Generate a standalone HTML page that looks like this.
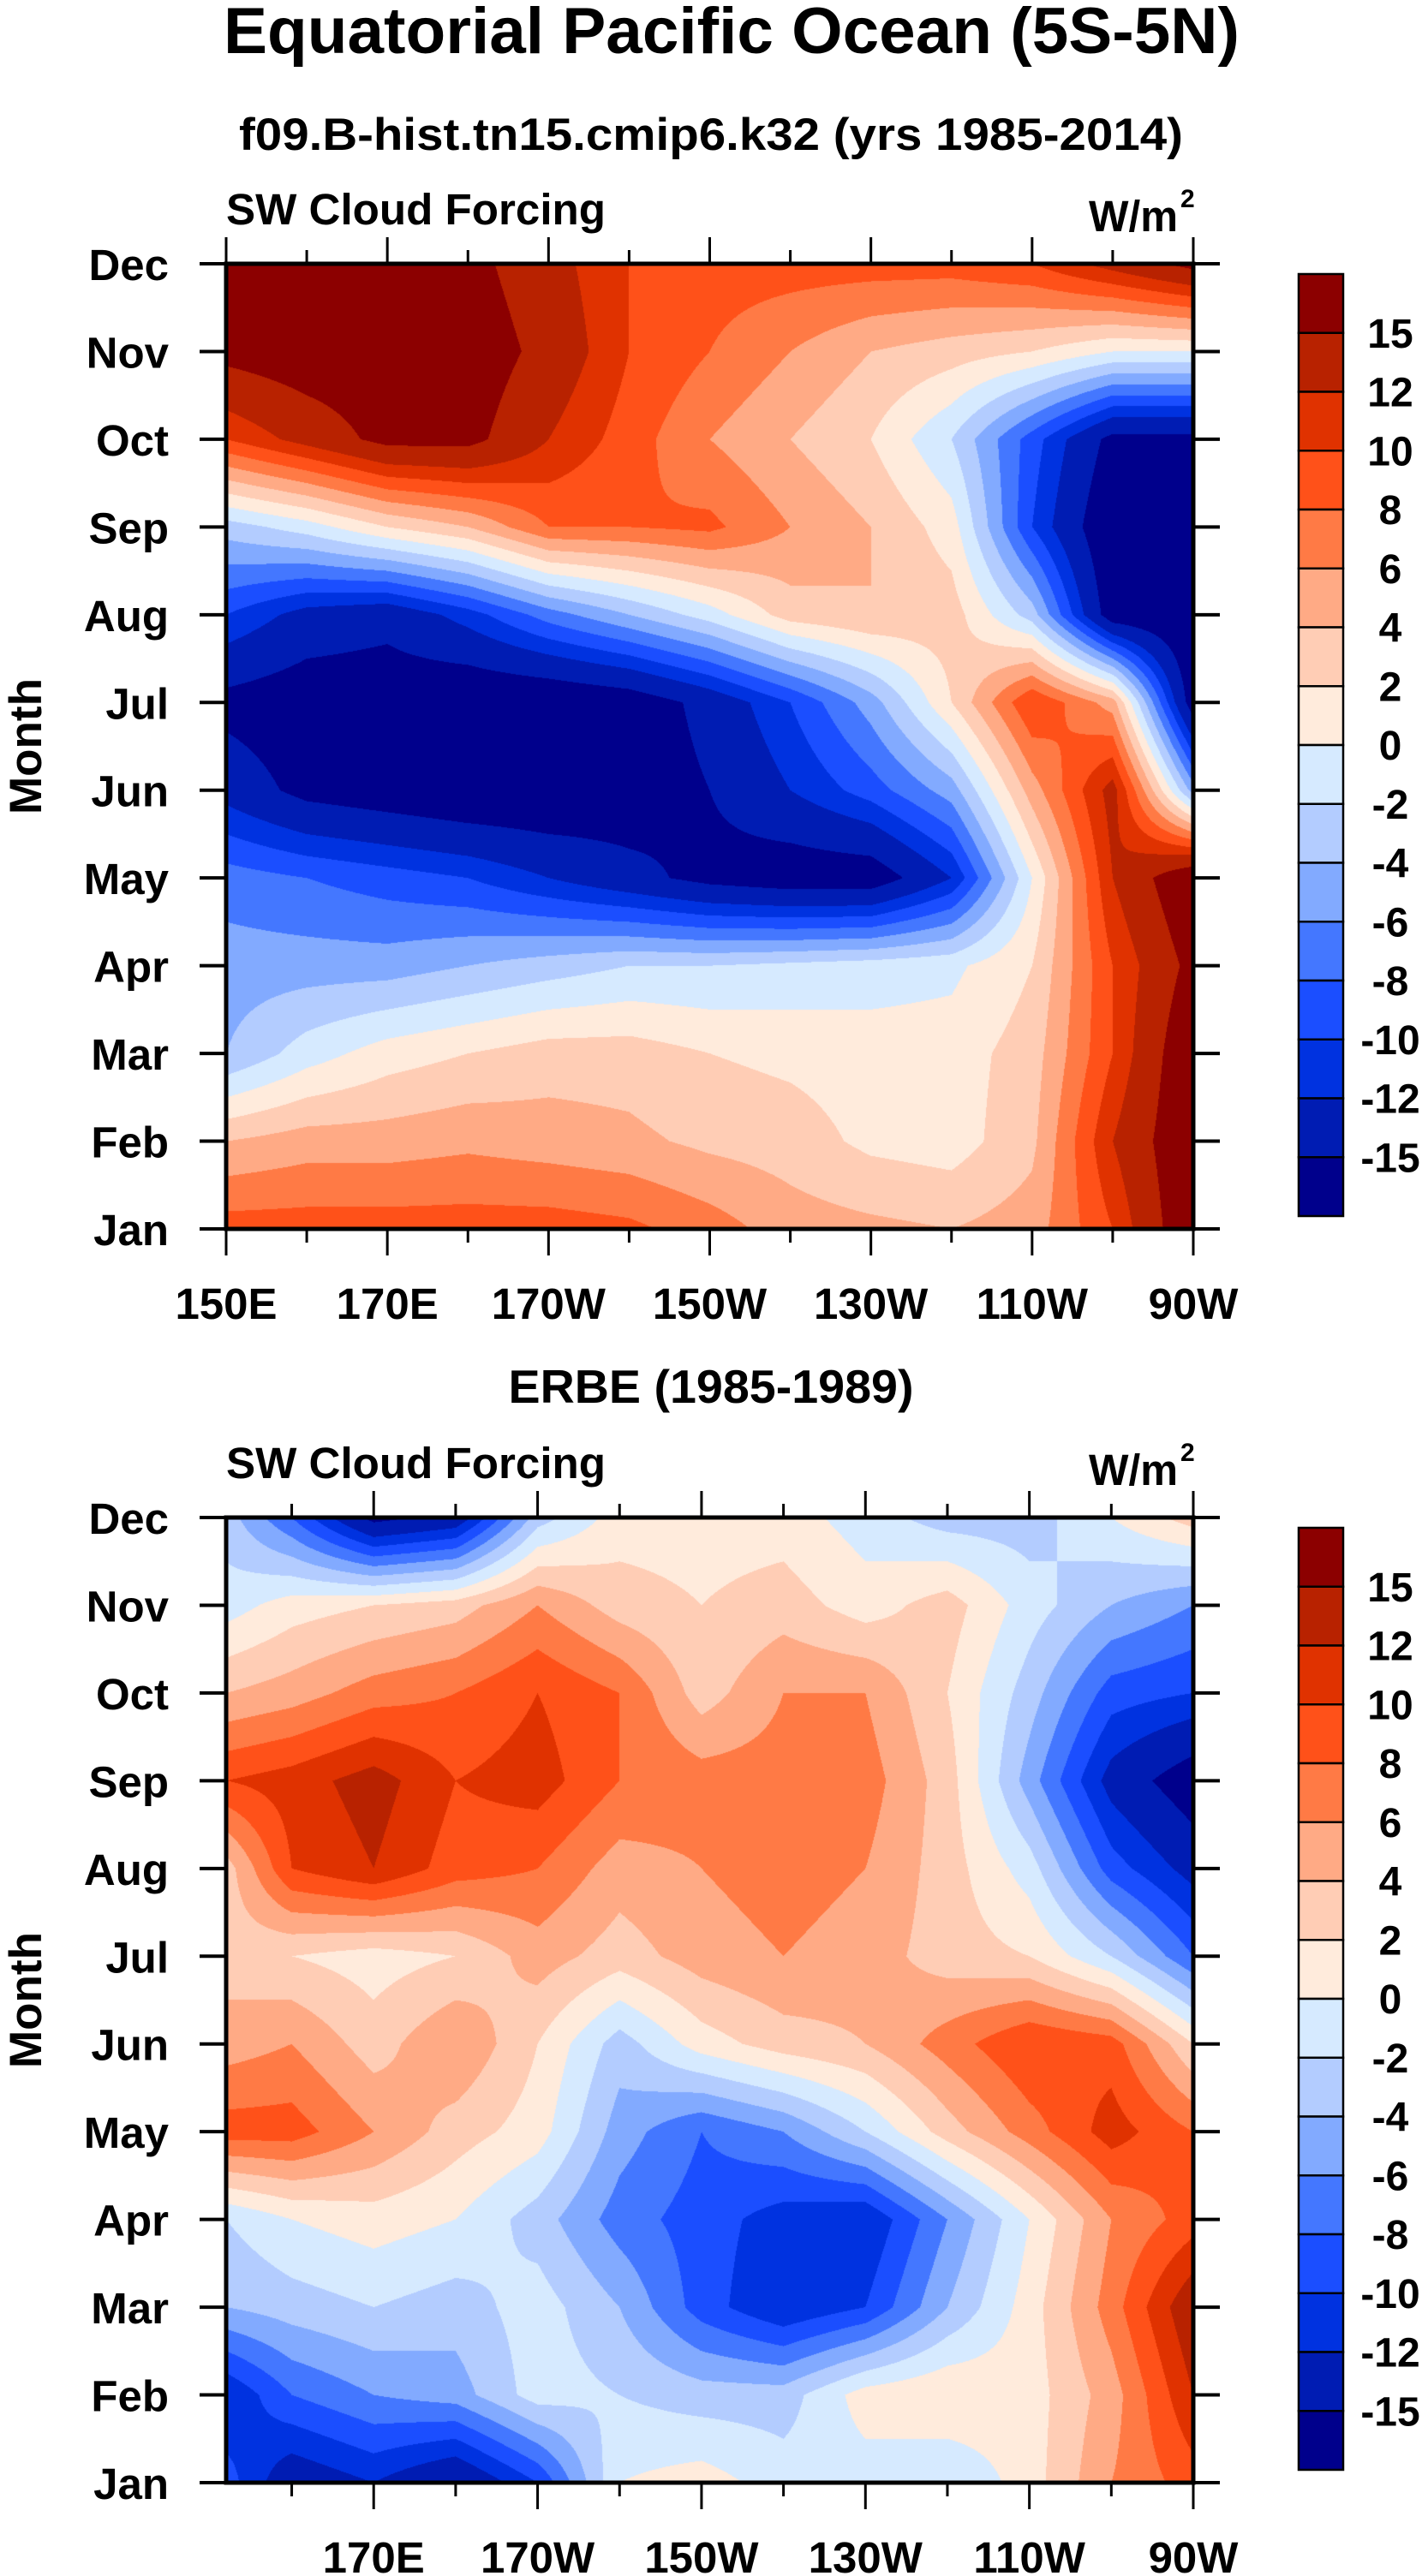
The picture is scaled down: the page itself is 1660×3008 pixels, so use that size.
<!DOCTYPE html>
<html><head><meta charset="utf-8">
<style>
html,body{margin:0;padding:0;background:#fff;}
#wrap{position:relative;width:1660px;height:3008px;overflow:hidden;font-family:"Liberation Sans",Arial,sans-serif;}
canvas{position:absolute;}
svg{position:absolute;left:0;top:0;}
text{font-family:"Liberation Sans",Arial,sans-serif;font-weight:bold;fill:#000;}
</style></head>
<body>
<div id="wrap">
<canvas id="c1" style="left:264px;top:308px" width="1129" height="1127"></canvas>
<canvas id="c2" style="left:264px;top:1772px" width="1129" height="1127"></canvas>
<svg id="s" width="1660" height="3008"></svg>
</div>
<script>
// ---- data ----
const months = ["Jan","Feb","Mar","Apr","May","Jun","Jul","Aug","Sep","Oct","Nov","Dec"];
const levels = [-15,-12,-10,-8,-6,-4,-2,0,2,4,6,8,10,12,15];
const levelLabels = ["15","12","10","8","6","4","2","0","-2","-4","-6","-8","-10","-12","-15"];
const colors = ["#00008C","#001CB3","#0032E0","#1B4EFF","#4477FF","#82AAFF","#B3CCFF","#D6EAFF","#FFEBDC","#FFCDB5","#FFAA85","#FF7A45","#FF5119","#E03200","#B82200","#8C0000"];
const lonTicks1 = [150,170,190,210,230,250,270];
const lonTickLabels1 = ["150E","170E","170W","150W","130W","110W","90W"];
const lonTicks2 = [170,190,210,230,250,270];
const lonTickLabels2 = ["170E","170W","150W","130W","110W","90W"];
const lons1 = [150,160,170,180,190,200,210,220,230,240,250,260,270];
const lons2 = [152,160,170,180,190,200,210,220,230,240,250,260,270];
// rows Jan..Dec, columns per lons
const model = [
 [9,9,9,9,9,8.5,7,5,4.5,4,5,10,18],
 [4,5,5,5.5,5,4.5,3.5,3,1.5,1,3.5,12,18],
 [-4,-1,1,2,3,3,2,1.5,1,1,3,10,18],
 [-5,-5,-5,-4,-3,-2,-2,-1.5,-1,-0.5,2,10,16],
 [-7,-8,-9,-10,-12,-14,-16,-17,-17,-12,0,12,18],
 [-13,-16,-17,-18,-18,-17,-15,-12,-9,-5,5,13,-5],
 [-16,-17,-17,-18,-18,-17,-14,-10,-5,2,10,5,-17],
 [-10,-13,-14,-11,-7,-4,-1,3,4,3,-3,-17,-18],
 [-3,-1,2,4,8,8,8.5,6,4,1,-10,-18,-18],
 [10,13,16,16,12,9,6,4,2,-2,-9,-16,-16],
 [16,17,17,17,14,10,8,6,4,3,2,0,0],
 [16,16,16,16,13,10,9,9,9,9,10,13,16]
];
const erbe = [
 [-9,-14,-12,-15,-10,0,1,-1,-1,-2,1,6,9],
 [-12,-8,-6,-5,-1,-2,-3,-3,1,2,1,5,12],
 [-4,-3,-2,-3,-1,-4,-9,-12,-10,-4,1,7,14],
 [-2,0,1,0,-3,-7,-9,-11,-12,-6,0,6,9],
 [9,9,6,3,1,-5,-8,-6,-2,3,7,11,8],
 [5,6,3,6,2,-3,1,3,4,7,10,9,2],
 [3,2,1,2,5,3,5,6,5,3,2,-2,-8],
 [3,10,12,9,8,5,6,7,6,3,-1,-9,-13],
 [10,11,13,10,11,8,7,7,7,3,-5,-13,-17],
 [4,5,7,8,10,8,3,6,6,2,-3,-9,-10],
 [-1,1,2,3,6,3,2,3,1,3,-1,-4,-6],
 [-3,-8,-16,-14,-3,1,1,1,-1,-3,-3,0,3]
];

// ---- layout ----
const P1 = {x0:264,x1:1393,y0:308,y1:1435,lonMin:150,lonMax:270};
const P2 = {x0:264,x1:1393,y0:1772,y1:2899,lonMin:152,lonMax:270};
const NS = "http://www.w3.org/2000/svg";
const svg = document.getElementById('s');
function xOf(p,lon){return p.x0+(lon-p.lonMin)/(p.lonMax-p.lonMin)*(p.x1-p.x0);}
function yOf(p,mi){return p.y1-mi/11*(p.y1-p.y0);}
function mk(tag,attrs,parent){const e=document.createElementNS(NS,tag);for(const k in attrs)e.setAttribute(k,attrs[k]);(parent||svg).appendChild(e);return e;}
function hex(c){return [parseInt(c.slice(1,3),16),parseInt(c.slice(3,5),16),parseInt(c.slice(5,7),16)];}
const rgb = colors.map(hex);

function drawField(canvasId,p,lons,data){
  const cv=document.getElementById(canvasId);const ctx=cv.getContext('2d');
  const W=cv.width,H=cv.height;const img=ctx.createImageData(W,H);
  for(let py=0;py<H;py++){
    const mi=(p.y1-(p.y0+py+0.5))/(p.y1-p.y0)*11;
    let r=Math.max(0,Math.min(10,Math.floor(mi)));const ty=Math.max(0,Math.min(1,mi-r));
    for(let px=0;px<W;px++){
      const lon=p.lonMin+(px+0.5)/(p.x1-p.x0)*(p.lonMax-p.lonMin);
      let c=0;while(c<lons.length-2&&lon>lons[c+1])c++;
      const tx=Math.max(0,Math.min(1,(lon-lons[c])/(lons[c+1]-lons[c])));
      const v=(data[r][c]*(1-tx)+data[r][c+1]*tx)*(1-ty)+(data[r+1][c]*(1-tx)+data[r+1][c+1]*tx)*ty;
      let i=0;while(i<levels.length&&v>=levels[i])i++;
      const k=(py*W+px)*4;img.data[k]=rgb[i][0];img.data[k+1]=rgb[i][1];img.data[k+2]=rgb[i][2];img.data[k+3]=255;
    }
  }
  ctx.putImageData(img,0,0);
}
drawField('c1',P1,lons1,model);
drawField('c2',P2,lons2,erbe);

function txt(s,attrs,name){const t=mk('text',attrs);t.textContent=s;return t;}

function axes(p,ticksMaj,tickLabs,prefix){
  const g=mk('g',{});
  
  
  months.forEach((m,i)=>{
    const y=yOf(p,i);
    mk('line',{x1:p.x0-31,x2:p.x0,y1:y,y2:y,stroke:'#000','stroke-width':4},g);
    mk('line',{x1:p.x1,x2:p.x1+31,y1:y,y2:y,stroke:'#000','stroke-width':4},g);
    txt(m,{x:197,y:y+19,'font-size':51,'text-anchor':'end'},prefix+'-month-label');
  });
  for(let lon=Math.ceil(p.lonMin/10)*10;lon<=p.lonMax;lon+=10){
    const x=xOf(p,lon);const major=(lon%20===10);
    const L=major?31:16;
    mk('line',{x1:x,x2:x,y1:p.y0-L,y2:p.y0,stroke:'#000','stroke-width':3},g);
    mk('line',{x1:x,x2:x,y1:p.y1,y2:p.y1+L,stroke:'#000','stroke-width':3},g);
  }
  ticksMaj.forEach((lon,i)=>{
    txt(tickLabs[i],{x:xOf(p,lon),y:p.y1+105,'font-size':51,'text-anchor':'middle'},prefix+'-lon-label');
  });
  const fr=mk('rect',{x:p.x0,y:p.y0,width:p.x1-p.x0,height:p.y1-p.y0,fill:'none',stroke:'#000','stroke-width':5});
  
  
  txt('SW Cloud Forcing',{x:p.x0,y:p.y0-46,'font-size':51,textLength:443,lengthAdjust:'spacingAndGlyphs'},prefix+'-variable-label');
  txt('W/m',{x:1271,y:p.y0-38,'font-size':51,textLength:104,lengthAdjust:'spacingAndGlyphs'},prefix+'-units-label');
  txt('2',{x:1378,y:p.y0-66,'font-size':30},prefix+'-units-superscript');
  txt('Month',{x:0,y:0,'font-size':53,'text-anchor':'middle',transform:'translate(48,'+((p.y0+p.y1)/2)+') rotate(-90)'},prefix+'-y-axis-title');
  const cb={x:1516,w:52,y:p.y0+12,h:1100};
  const bh=cb.h/colors.length;
  colors.slice().reverse().forEach((c,i)=>{
    const r=mk('rect',{x:cb.x,y:cb.y+i*bh,width:cb.w,height:bh,fill:c,stroke:'#000','stroke-width':2.5});
    
    
  });
  levelLabels.forEach((s,i)=>{
    txt(s,{x:1623,y:cb.y+(i+1)*bh+17,'font-size':48,'text-anchor':'middle'},prefix+'-colorbar-label');
  });
}
axes(P1,lonTicks1,lonTickLabels1,'model');
axes(P2,lonTicks2,lonTickLabels2,'erbe');

txt('Equatorial Pacific Ocean (5S-5N)',{x:854,y:62,'font-size':76,'text-anchor':'middle',textLength:1186,lengthAdjust:'spacingAndGlyphs'},'main-title');
txt('f09.B-hist.tn15.cmip6.k32 (yrs 1985-2014)',{x:830,y:175,'font-size':53,'text-anchor':'middle',textLength:1102,lengthAdjust:'spacingAndGlyphs'},'model-subtitle');
txt('ERBE (1985-1989)',{x:830,y:1638,'font-size':55,'text-anchor':'middle',textLength:473,lengthAdjust:'spacingAndGlyphs'},'erbe-subtitle');
</script>
</body></html>
